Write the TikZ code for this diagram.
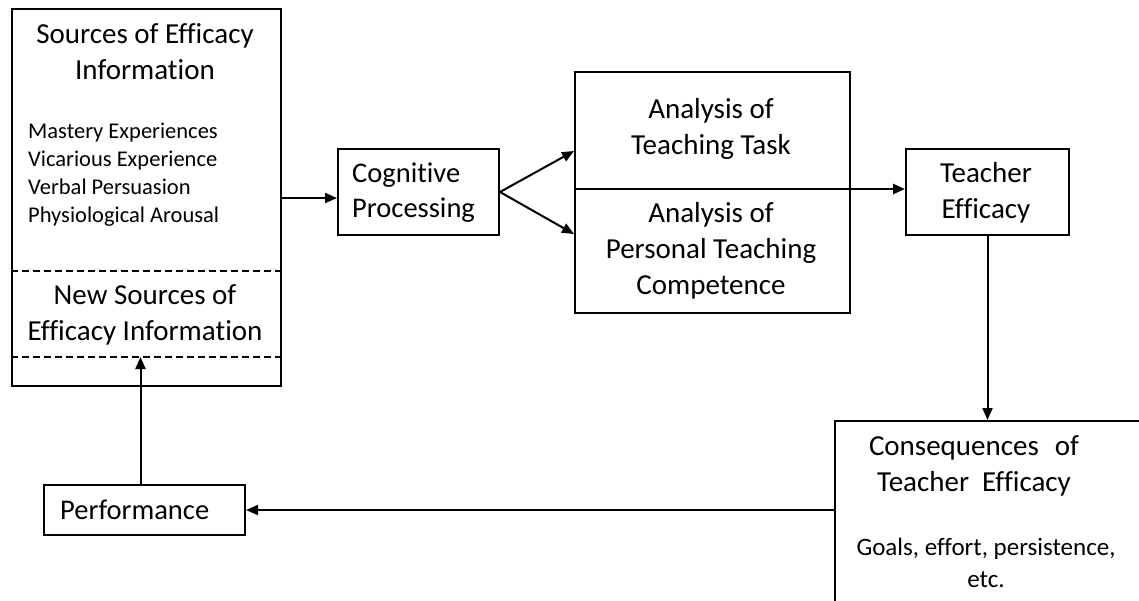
\documentclass[tikz,border=0pt]{standalone}
\usepackage{fontspec}
\setmainfont{Carlito}[Ligatures={NoCommon,NoContextual}]
\usetikzlibrary{arrows.meta}
\tikzset{
  box/.style={draw, line width=2pt, inner sep=0pt},
  big/.style={font=\fontsize{29}{36}\selectfont, align=center, inner sep=0pt},
  mid/.style={font=\fontsize{28.5}{35}\selectfont, inner sep=0pt},
  small/.style={font=\fontsize{22.5}{28}\selectfont, inner sep=0pt},
  arr/.style={line width=2pt, -{Triangle[length=12pt,width=10pt]}},
  dline/.style={line width=1.6pt, dash pattern=on 7pt off 4pt},
}
\begin{document}
\begin{tikzpicture}[x=1pt,y=-1pt]
\useasboundingbox (0,0) rectangle (1139,600);
\clip (0,0) rectangle (1139,600);
% left box
\node[box, anchor=north west, minimum width=269pt, minimum height=377pt] (src) at (11,8) {};
\node[big] (srct) at (145,52) {Sources of Efficacy\\Information};
\node[small, anchor=west, align=left] (list) at (28,175) {Mastery Experiences\\Vicarious Experience\\Verbal Persuasion\\Physiological Arousal};
\coordinate (d1l) at (11,271);
\coordinate (d1r) at (280,271);
\coordinate (d2l) at (11,357);
\coordinate (d2r) at (280,357);
\draw[dline] (d1l) -- (d1r);
\draw[dline] (d2l) -- (d2r);
\node[big] (newsrc) at (145,315) {New Sources of\\Efficacy Information};
% cognitive
\node[box, anchor=north west, minimum width=161pt, minimum height=86pt] (cog) at (337,148) {};
\node[mid, anchor=west, align=left] (cogt) at (352,193) {Cognitive\\Processing};
% analysis
\node[box, anchor=north west, minimum width=275pt, minimum height=241pt] (ana) at (574,71) {};
\coordinate (a1) at (574,151);
\coordinate (a2) at (574,234);
\coordinate (div) at (574,189);
\node[big] (anat) at (711,129) {Analysis of\\Teaching Task};
\node[big] (anap) at (711,251) {Analysis of\\Personal Teaching\\Competence};
% teacher efficacy
\node[box, anchor=north west, minimum width=163pt, minimum height=86pt] (te) at (905,148) {};
\node[big] (tet) at (986,193) {Teacher\\Efficacy};
% consequences
\node[box, anchor=north west, minimum width=330pt, minimum height=200pt] (cons) at (834,420) {};
\node[big] (const) at (974,466) {Consequences\hspace{0.55em}of\\Teacher\hspace{0.45em}Efficacy};
\node[font=\fontsize{25}{32}\selectfont, align=center, inner sep=0pt] (goals) at (986,563) {Goals, effort, persistence,\\etc.};
% performance
\node[box, anchor=north west, minimum width=201pt, minimum height=50pt] (perf) at (43,484) {};
\node[mid, anchor=west] (perft) at (60,510) {Performance};
% connectors
\draw[arr] (src.east |- 0,198) -- (cog.west |- 0,198);
\draw[arr] (cog.east) -- (a1);
\draw[arr] (cog.east) -- (a2);
\draw[arr, line width=2.4pt] (div) -- (div -| te.west);
\draw[arr] (te.south) -- (te.south |- cons.north);
\draw[arr] (perf.east -| cons.west) -- (perf.east);
\draw[arr] ([xshift=-4pt]perf.north) -- ([xshift=-4pt]perf.north |- d2l);
\end{tikzpicture}
\end{document}
